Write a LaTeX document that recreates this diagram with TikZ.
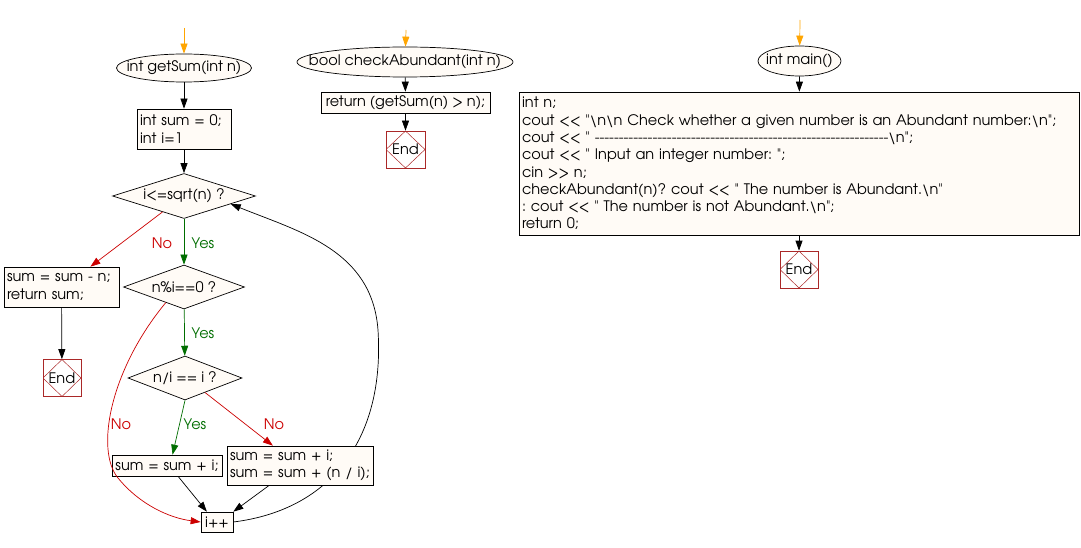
\documentclass[tikz,border=0pt]{standalone}
\usepackage{fontspec}
\setmainfont{texgyreadventor-regular.otf}[Ligatures=TeXOff]
\usetikzlibrary{shapes.geometric,arrows.meta,calc}
\definecolor{cream}{RGB}{255,251,246}
\definecolor{endred}{RGB}{170,40,40}
\definecolor{orangeA}{RGB}{255,165,0}
\definecolor{noRed}{RGB}{204,0,0}
\definecolor{yesGreen}{RGB}{0,110,0}
\frenchspacing
\begin{document}
\begin{tikzpicture}[x=1pt,y=-1pt,
  font=\fontsize{14.5}{17.3}\selectfont\frenchspacing,
  line width=0.7pt,
  tip/.style={-{Triangle[length=10pt,width=7pt]}},
  flow/.style={tip,draw=black},
  startflow/.style={-{Triangle[length=10pt,width=7pt]},draw=orangeA},
  yesflow/.style={tip,draw=yesGreen},
  noflow/.style={tip,draw=noRed},
  proc/.style={draw,fill=cream,rectangle,inner sep=3pt,align=left,anchor=center},
  decision/.style={draw,fill=cream,diamond,inner sep=0pt,aspect=3},
  term/.style={draw,fill=cream,ellipse,inner sep=0pt},
  endnode/.style={draw=endred,rectangle,inner sep=0pt,minimum width=38pt,minimum height=37pt,
    path picture={\draw[endred,line width=0.5pt] (path picture bounding box.north) -- (path picture bounding box.east) -- (path picture bounding box.south) -- (path picture bounding box.west) -- cycle;}},
  yeslbl/.style={text=yesGreen},
  nolbl/.style={text=noRed}
]
\useasboundingbox[fill=white] (0,0) rectangle (1081,548);

% ---------- getSum ----------
\coordinate (s1) at (184,28);
\node[term,minimum width=135pt,minimum height=28pt] (gs) at (184,68) {\makebox[0pt]{int getSum(int n)}};
\node[proc,text width=88pt,minimum height=40pt] (init) at (184,129) {int sum = 0;\\int i=1};
\node[decision,minimum width=143pt,minimum height=45pt] (d1) at (184,196) {i<=sqrt(n) ?};
\node[decision,minimum width=121pt,minimum height=44pt] (d2) at (184,287) {n\%i==0 ?};
\node[decision,minimum width=114pt,minimum height=44pt] (d3) at (185,378) {n/i == i ?};
\node[proc,text width=109pt,minimum height=40pt] (bret) at (61.5,287) {sum = sum - n;\\return sum;};
\node[proc,text width=104pt,minimum height=21pt,align=center,inner ysep=1pt] (bA) at (167,465.5) {sum = sum + i;};
\node[proc,text width=140pt,minimum height=39pt] (bB) at (300,465.5) {sum = sum + i;\\sum = sum + (n / i);};
\node[proc,minimum width=32pt,minimum height=20pt,align=center,inner sep=0pt] (ipp) at (217,522) {i++};
\node[endnode] (e1) at (62,378) {End};

\draw[startflow] (s1) -- (gs);
\draw[flow] (gs) -- (init);
\draw[flow] (init) -- (d1);
\draw[yesflow] (d1) -- (d2);
\node[yeslbl] (l1) at (203,243) {Yes};
\draw[noflow] ($(d1.south)!0.3!(d1.west)$) -- ($(bret.north west)!0.75!(bret.north east)$);
\node[nolbl] (l2) at (162,243) {No};
\draw[flow] (bret) -- (e1);
\draw[yesflow] (d2) -- (d3);
\node[yeslbl] (l3) at (203,333) {Yes};
\draw[noflow] ($(d2.south)!0.3!(d2.west)$) .. controls (110,370) and (95,450) .. (118,478) .. controls (140,505) and (170,518) .. (ipp.west);
\node[nolbl] (l4) at (121,424) {No};
\draw[yesflow] (d3.south) -- ($(bA.north west)!0.55!(bA.north east)$);
\node[yeslbl] (l5) at (195,424) {Yes};
\draw[noflow] ($(d3.south)!0.35!(d3.east)$) -- ($(bB.north west)!0.315!(bB.north east)$);
\node[nolbl] (l6) at (274,424) {No};
\draw[flow] ($(bA.south west)!0.6!(bA.south east)$) -- ($(ipp.north west)!0.19!(ipp.north east)$);
\draw[flow] ($(bB.south west)!0.29!(bB.south east)$) -- (ipp.north east);
\draw[flow] (ipp.east) .. controls (330,510) and (385,440) .. (378,330) .. controls (372,250) and (300,232) .. ($(d1.east)!0.35!(d1.south)$);
% redraw box B on top of loop line
\node[proc,text width=140pt,minimum height=39pt] (bB2) at (300,465.5) {sum = sum + i;\\sum = sum + (n / i);};

% ---------- checkAbundant ----------
\coordinate (s2) at (406,30);
\node[term,minimum width=216pt,minimum height=30pt] (ca) at (405,62) {\makebox[0pt]{bool checkAbundant(int n)}};
\node[proc,minimum width=169pt,minimum height=21pt,inner sep=0pt] (ret) at (405.5,102.5) {return (getSum(n) > n);};
\node[endnode,minimum width=39pt] (e2) at (405.5,149.5) {End};
\draw[startflow] (s2) -- (ca);
\draw[flow] (ca) -- (ret);
\draw[flow] (ret) -- (e2);

% ---------- main ----------
\coordinate (s3) at (800,20);
\node[term,minimum width=83pt,minimum height=30pt] (mn) at (799.5,61) {\makebox[0pt]{int main()}};
\node[proc,text width=554pt,minimum height=143pt] (mb) at (799,163.5) {int n;\\
cout << "\textbackslash n\textbackslash n Check whether a given number is an Abundant number:\textbackslash n";\\
cout << " -------------------------------------------------------------\textbackslash n";\\
cout << " Input an integer number: ";\\
cin >> n;\\
checkAbundant(n)? cout << " The number is Abundant.\textbackslash n"\\
: cout << " The number is not Abundant.\textbackslash n";\\
return 0;};
\node[endnode] (e3) at (799,269.5) {End};
\draw[startflow] (s3) -- (mn);
\draw[flow] (mn) -- (mb);
\draw[flow] (mb) -- (e3);
\end{tikzpicture}
\end{document}
